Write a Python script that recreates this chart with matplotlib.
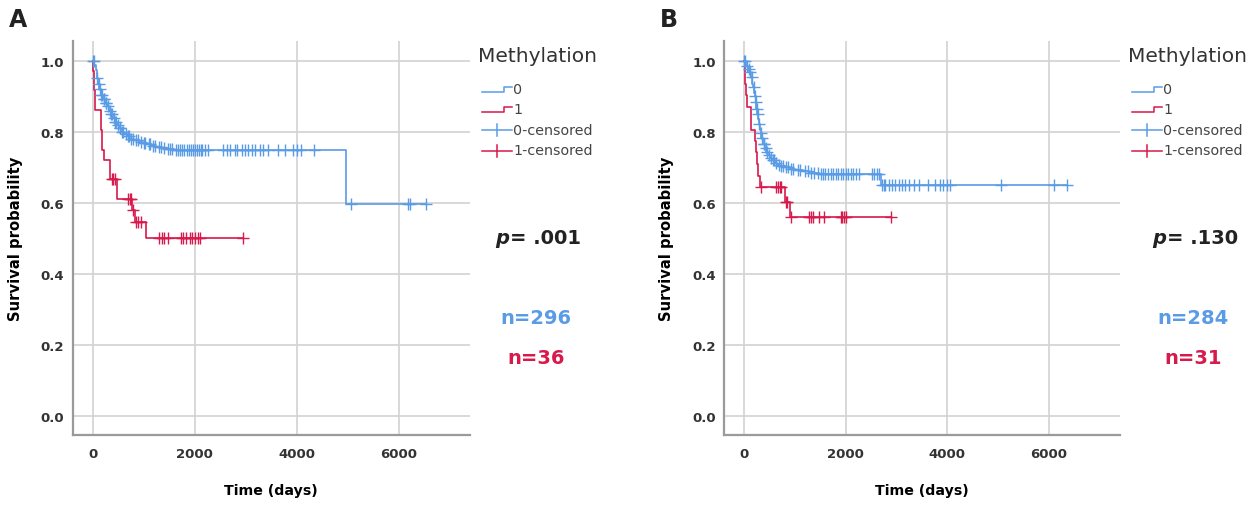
import numpy as np
import matplotlib.pyplot as plt
from matplotlib.lines import Line2D

# Kaplan-Meier curves (days, survival after the step)
a0_t = [0, 30, 60, 80, 100, 130, 160, 200, 240, 280, 320, 350, 390, 430, 470, 510,
        560, 620, 680, 740, 820, 900, 980, 1060, 1150, 1250, 1350, 1450, 1600, 4961]
a0_s = [1.0, 0.987, 0.973, 0.953, 0.935, 0.92, 0.905, 0.893, 0.882, 0.872, 0.86, 0.85,
        0.84, 0.828, 0.818, 0.81, 0.80, 0.793, 0.787, 0.781, 0.776, 0.772, 0.768, 0.765,
        0.761, 0.757, 0.754, 0.751, 0.748, 0.598]
a0_cens = [10, 20, 90, 115, 140, 170, 190, 215, 230, 255, 270, 300, 330, 360, 380, 410,
           445, 460, 490, 530, 545, 580, 600, 650, 700, 720, 760, 790, 850, 880, 940, 1000,
           1030, 1100, 1120, 1180, 1220, 1300, 1330, 1400, 1480, 1520, 1560, 1640, 1680,
           1720, 1760, 1800, 1850, 1880, 1920, 1960, 2000, 2050, 2080, 2120, 2150, 2200,
           2260, 2562, 2627, 2693, 2791, 2824, 2922, 2987, 3052, 3118, 3183, 3281, 3346,
           3444, 3641, 3771, 3935, 4013, 4078, 4346, 5065, 6190, 6222, 6529]

a1_t = [0, 15, 30, 45, 157, 180, 222, 340, 470, 770, 830, 1039]
a1_s = [1.0, 0.972, 0.917, 0.861, 0.806, 0.75, 0.722, 0.667, 0.611, 0.58, 0.545, 0.5]
a1_cens = [373, 405, 438, 699, 732, 745, 784, 850, 895, 941, 1307, 1353, 1399, 1484,
           1725, 1778, 1830, 1908, 1954, 2007, 2059, 2105, 2941]

b0_t = [0, 40, 70, 98, 130, 160, 176, 195, 208, 225, 241, 258, 274, 290, 306, 322, 339,
        371, 400, 436, 470, 502, 550, 599, 650, 697, 800, 893, 1000, 1153, 1283, 1479, 2684]
b0_s = [1.0, 0.985, 0.977, 0.968, 0.954, 0.935, 0.925, 0.91, 0.902, 0.885, 0.864, 0.85,
        0.836, 0.822, 0.808, 0.796, 0.784, 0.765, 0.755, 0.742, 0.734, 0.727, 0.72, 0.713,
        0.708, 0.704, 0.70, 0.696, 0.693, 0.69, 0.685, 0.68, 0.65]
b0_cens = [5, 10, 60, 85, 110, 150, 185, 215, 235, 250, 265, 300, 330, 355, 380, 390, 420,
           450, 480, 520, 560, 580, 620, 680, 720, 760, 820, 860, 920, 960, 1050, 1100,
           1200, 1250, 1320, 1380, 1450, 1520, 1560, 1600, 1650, 1700, 1750, 1800, 1850,
           1900, 1950, 2000, 2050, 2100, 2150, 2200, 2260, 2520, 2560, 2610, 2650, 2717,
           2749, 2782, 2847, 2912, 2977, 3042, 3107, 3173, 3238, 3336, 3433, 3629, 3759,
           3857, 3922, 3987, 4052, 5049, 6104, 6352]

b1_t = [0, 13, 25, 45, 59, 124, 130, 221, 240, 260, 274, 306, 795, 893]
b1_s = [1.0, 0.968, 0.935, 0.903, 0.871, 0.839, 0.806, 0.774, 0.742, 0.71, 0.677, 0.645,
        0.603, 0.560]
b1_cens = [339, 632, 664, 697, 730, 814, 847, 912, 1283, 1316, 1349, 1479, 1576, 1902,
           1935, 1967, 2000, 2899]

p_text = ['.001', '.130']
n0_text = ['n=296', 'n=284']
n1_text = ['n=36', 'n=31']
panel_names = ['A', 'B']
legend_labels = ['0', '1', '0-censored', '1-censored']

BLUE = '#5a9be6'
RED = '#d7194b'
W, H = 1260, 506

fig = plt.figure(figsize=(12.6, 5.06), dpi=100)
renderer = fig.canvas.get_renderer()


def px(x, y):
    return x / W, 1 - y / H


def km(ax, t, s, cens, color):
    t = np.array(t, float)
    s = np.array(s, float)
    end = max(max(cens), t[-1])
    tt = np.append(t, end)
    ss = np.append(s, s[-1])
    ax.step(tt, ss, where='post', color=color, lw=1.2, zorder=3)
    c = np.array(cens, float)
    cy = s[np.searchsorted(t, c, side='right') - 1]
    ax.plot(c, cy, ls='none', marker='+', ms=8, mew=1.0, color=color, zorder=4)


# left, right of axes; x where the p text starts; centre of the n texts
panels = [
    (72.7, 470, 495, 536, (a0_t, a0_s, a0_cens), (a1_t, a1_s, a1_cens)),
    (724.3, 1120, 1152, 1193, (b0_t, b0_s, b0_cens), (b1_t, b1_s, b1_cens)),
]

for i, (left, right, p_x, n_x, g0, g1) in enumerate(panels):
    x0, y1 = px(left, 42)
    x1, y0 = px(right, 436)
    ax = fig.add_axes([x0, y0, x1 - x0, y1 - y0])
    km(ax, *g0, BLUE)
    km(ax, *g1, RED)
    ax.set_xlim(-392, 7400)
    ax.set_ylim(-0.054, 1.056)
    xt = [0, 2000, 4000, 6000]
    yt = [0.0, 0.2, 0.4, 0.6, 0.8, 1.0]
    ax.set_xticks(xt, [str(v) for v in xt], fontweight='bold')
    ax.set_yticks(yt, ['%.1f' % v for v in yt], fontweight='bold')
    ax.tick_params(length=0, labelsize=9.5, colors='#333333', pad=6)
    ax.tick_params(axis='x', pad=9)
    ax.grid(True, color='#d2d2d2', lw=1.2)
    ax.set_axisbelow(True)
    for sp in ['top', 'right']:
        ax.spines[sp].set_visible(False)
    for sp in ['left', 'bottom']:
        ax.spines[sp].set_color('#9a9a9a')
        ax.spines[sp].set_linewidth(1.6)
    ax.set_xlabel('Time (days)', fontsize=10.2, fontweight='bold', labelpad=16)
    ax.set_ylabel('Survival probability', fontsize=10.6, fontweight='bold', labelpad=13)

    # panel letter
    fig.text(*px(left - 64, 20), panel_names[i], fontsize=17, fontweight='bold',
             ha='left', va='center', color='#222222')

    # legend drawn by hand
    lx = right + 8
    fig.text(*px(lx, 57), 'Methylation', fontsize=14.5, color='#333333',
             ha='left', va='center')
    for k, (lab, col) in enumerate(zip(legend_labels, [BLUE, RED, BLUE, RED])):
        yc = 90 + 20.5 * k
        hx0, hx1 = lx + 4, lx + 34
        if k < 2:
            xs = [hx0, hx1 - 8, hx1 - 8, hx1]
            ys = [yc + 2.5, yc + 2.5, yc - 2.5, yc - 2.5]
            xs, ys = zip(*[px(a, b) for a, b in zip(xs, ys)])
            fig.add_artist(Line2D(xs, ys, color=col, lw=1.1, transform=fig.transFigure))
        else:
            xs, ys = zip(px(hx0, yc), px(hx1, yc))
            fig.add_artist(Line2D(xs, ys, color=col, lw=1.1, transform=fig.transFigure))
            xm = (hx0 + hx1) / 2
            xs, ys = zip(px(xm, yc - 6), px(xm, yc + 6))
            fig.add_artist(Line2D(xs, ys, color=col, lw=1.1, transform=fig.transFigure))
        fig.text(*px(hx1 + 1, yc), lab, fontsize=10.3, color='#444444',
                 ha='left', va='center')

    # p value: italic p followed by the rest
    tp = fig.text(*px(p_x, 239), 'p', fontsize=14, fontweight='bold', style='italic',
                  ha='left', va='center', color='#222222')
    pw = tp.get_window_extent(renderer).width
    fig.text(*px(p_x + pw + 1, 239), '= ' + p_text[i], fontsize=14, fontweight='bold',
             ha='left', va='center', color='#222222')
    fig.text(*px(n_x, 318), n0_text[i], fontsize=14, fontweight='bold',
             ha='center', va='center', color=BLUE)
    fig.text(*px(n_x, 358), n1_text[i], fontsize=14, fontweight='bold',
             ha='center', va='center', color=RED)

fig.savefig('out.png', dpi=100)
